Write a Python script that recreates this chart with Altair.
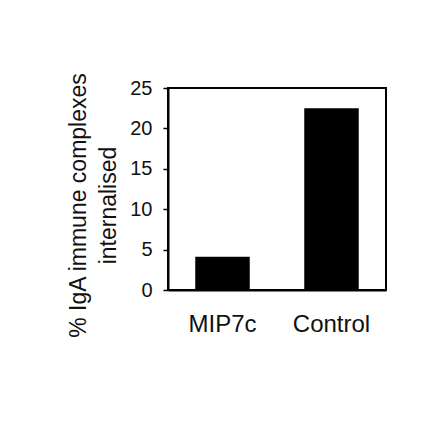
import altair as alt
import pandas as pd

groups = ["MIP7c", "Control"]
internalised = [4.1, 22.5]

df = pd.DataFrame({"group": groups, "value": internalised})

font = "Liberation Sans"

bars = alt.Chart(df).mark_bar(color="black").encode(
    x=alt.X(
        "group:N",
        sort=groups,
        scale=alt.Scale(paddingInner=0.5, paddingOuter=0.25),
        axis=alt.Axis(
            title=None, labelAngle=0, labelFontSize=24, labelFont=font,
            labelColor="#111", labelPadding=22, ticks=False,
            domainColor="black", domainWidth=2,
        ),
    ),
    y=alt.Y(
        "value:Q",
        scale=alt.Scale(domain=[0, 25], nice=False),
        axis=alt.Axis(
            values=[0, 5, 10, 15, 20, 25],
            title=["% IgA immune complexes", "internalised"],
            titleFont=font, titleFontSize=23, titleFontWeight="normal",
            titleColor="#111", titleLineHeight=30, titlePadding=9,
            titleY=117,
            labelFontSize=20, labelFont=font, labelColor="#111",
            labelPadding=11, tickSize=5, tickWidth=1.5, tickColor="black",
            domainColor="black", domainWidth=2, grid=False,
        ),
    ),
).properties(
    width=218,
    height=202,
    background="white",
    autosize=alt.AutoSizeParams(type="none"),
    padding={"left": 160, "top": 80, "right": 46, "bottom": 143},
).configure_view(
    stroke="black", strokeWidth=2
)

bars.save("out.html", embed_options={"renderer": "svg", "actions": False})
